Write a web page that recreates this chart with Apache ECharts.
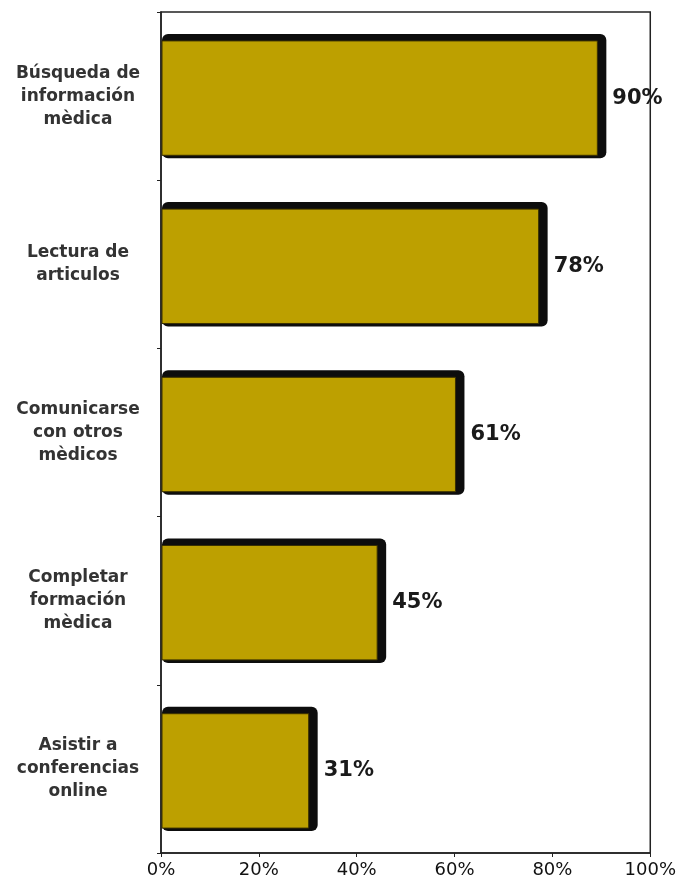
<!DOCTYPE html>
<html>
<head>
<meta charset="utf-8">
<script src="https://cdn.jsdelivr.net/npm/echarts@6/dist/echarts.min.js"></script>
<style>html,body{margin:0;padding:0;background:#fff;}#c{width:679px;height:891px;}</style>
</head>
<body>
<div id="c"></div>
<script>
const categories = [
  "Búsqueda de\ninformación\nmèdica",
  "Lectura de\narticulos",
  "Comunicarse\ncon otros\nmèdicos",
  "Completar\nformación\nmèdica",
  "Asistir a\nconferencias\nonline"
];
const values = [90, 78, 61, 45, 31];
const xTicks = [0, 20, 40, 60, 80, 100];

const chart = echarts.init(document.getElementById('c'), null, {renderer: 'canvas'});

function renderBar(params, api) {
  const idx = api.value(0);
  const val = api.value(1);
  const origin = api.coord([0, idx]);
  const end = api.coord([val, idx]);
  const band = api.size([0, 1])[1];
  const h = band * 0.68;
  const cy = origin[1] + 2;
  const x0 = origin[0] + 1;
  const x1 = end[0] - 4;
  const y0 = cy - h / 2;
  const y1 = cy + h / 2;
  return {
    type: 'group',
    children: [
      {
        type: 'rect',
        shape: {x: x0, y: y0 - 7, width: (x1 + 9) - x0, height: h + 10, r: 6},
        style: {fill: '#0d0d0d'}
      },
      {
        type: 'rect',
        shape: {x: x0, y: y0, width: x1 - x0, height: h},
        style: {fill: '#BDA000', stroke: '#3a3000', lineWidth: 1}
      },
      {
        type: 'text',
        style: {
          x: x1 + 15, y: cy,
          text: val + '%',
          fill: '#1a1a1a',
          font: 'bold 21px "DejaVu Sans"',
          verticalAlign: 'middle', align: 'left'
        }
      }
    ]
  };
}

chart.setOption({
  animation: false,
  backgroundColor: '#fff',
  grid: {left: 161, right: 27, top: 12, bottom: 38, show: true, borderColor: '#222', borderWidth: 1.5, backgroundColor: 'transparent'},
  xAxis: {
    type: 'value', min: 0, max: 100, interval: 20,
    axisLine: {show: true, lineStyle: {color: '#222', width: 1.5}},
    axisTick: {show: true, length: 4, lineStyle: {color: '#222'}},
    splitLine: {show: false},
    axisLabel: {formatter: v => v + '%', color: '#111', fontFamily: 'DejaVu Sans', fontSize: 18, margin: 8}
  },
  yAxis: {
    type: 'category', inverse: true, data: categories,
    axisLine: {show: true, lineStyle: {color: '#222', width: 1.5}},
    axisTick: {show: true, length: 4, lineStyle: {color: '#222'}},
    axisLabel: {align: 'center', margin: 83, color: '#333', fontFamily: 'DejaVu Sans', fontWeight: 'bold', fontSize: 17, lineHeight: 23}
  },
  series: [{
    type: 'custom',
    renderItem: renderBar,
    encode: {x: 1, y: 0},
    data: values.map((v, i) => [i, v]),
    z: 1
  }]
});
</script>
</body>
</html>
